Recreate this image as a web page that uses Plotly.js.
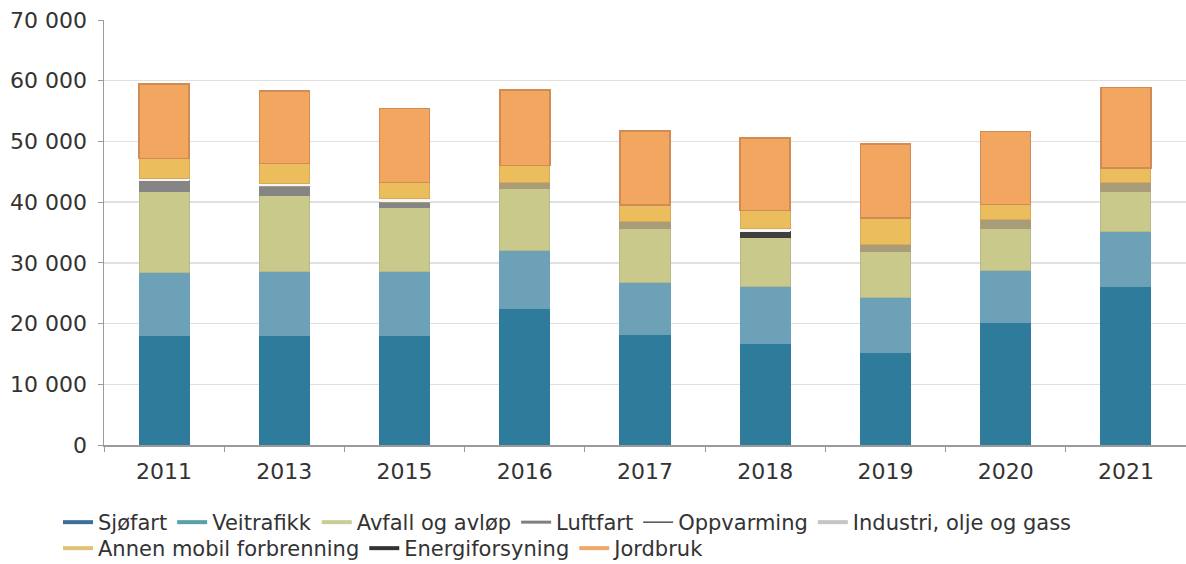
<!DOCTYPE html>
<html>
<head>
<meta charset="utf-8">
<script src="https://cdn.plot.ly/plotly-3.0.1.min.js"></script>
<style>
  html, body { margin: 0; padding: 0; background: #ffffff; }
  #chart { width: 1186px; height: 564px; }
</style>
</head>
<body>
<div id="chart"></div>
<script>
const years = ['2011', '2013', '2015', '2016', '2017', '2018', '2019', '2020', '2021'];

const sjofart        = [18100, 18100, 18100, 22500, 18200, 16800, 15250, 20100, 26100];
const veitrafikk     = [10300, 10400, 10400,  9500,  8550,  9300,  9000,  8700,  9100];
const avfall         = [13400, 12600, 10700, 10200,  8900,  8000,  7600,  6900,  6500];
const luftfart       = [ 1750,  1500,   800,     0,     0,     0,     0,     0,     0];
const energiforsyning= [    0,     0,     0,     0,     0,  1000,     0,     0,     0];
const industri       = [    0,     0,     0,  1100,  1100,     0,  1250,  1400,  1500];
const oppvarming     = [  330,   390,   540,     0,     0,   550,     0,     0,     0];
const annenMobil     = [ 3300,  3400,  2700,  2700,  2750,  2950,  4300,  2500,  2450];
const jordbruk       = [12300, 11900, 12200, 12500, 12250, 11950, 12200, 12000, 13200];

const seriesNames = ['Sjøfart', 'Veitrafikk', 'Avfall og avløp', 'Luftfart', 'Oppvarming',
  'Industri, olje og gass', 'Annen mobil forbrenning', 'Energiforsyning', 'Jordbruk'];

const FONT = 'DejaVu Sans, Liberation Sans, Arial, sans-serif';

function barTrace(name, values, color, lineColor, lineWidth) {
  return {
    type: 'bar', x: years, y: values, name: name, legendgroup: name,
    showlegend: false, hoverinfo: 'skip',
    marker: { color: color, line: { color: lineColor, width: lineWidth } }
  };
}

const bars = [
  barTrace('Sjøfart', sjofart, '#2f7b9b', '#2f7b9b', 1),
  barTrace('Veitrafikk', veitrafikk, '#6ca1b7', '#6ca1b7', 1),
  barTrace('Avfall og avløp', avfall, '#cac98c', '#b9b88a', 1),
  barTrace('Luftfart', luftfart, '#858585', '#858585', 1),
  barTrace('Energiforsyning', energiforsyning, '#3f3f3f', '#3f3f3f', 1),
  barTrace('Industri, olje og gass', industri, '#a99c79', '#a99c79', 1),
  barTrace('Oppvarming', oppvarming, '#f7f7f3', '#f7f7f3', 0),
  barTrace('Annen mobil forbrenning', annenMobil, '#ebbd5c', '#d9a95a', 1),
  barTrace('Jordbruk', jordbruk, '#f3a65f', '#cf8c57', 1.5)
];

const legendColors = ['#3e6f98', '#5b9fa9', '#cacc97', '#7f7f7f', '#4f4f4f',
  '#c2c6c6', '#e2c275', '#333333', '#efa86a'];
const legendWidths = [4, 4, 4, 3, 1.5, 4, 4, 4, 4];
const legendIds = ['legend', 'legend', 'legend', 'legend', 'legend', 'legend',
  'legend2', 'legend2', 'legend2'];

const legendTraces = seriesNames.map((n, i) => ({
  type: 'scatter', mode: 'lines', x: [null], y: [null], name: n,
  legendgroup: n, legend: legendIds[i], hoverinfo: 'skip',
  line: { color: legendColors[i], width: legendWidths[i] }
}));

const layout = {
  width: 1186, height: 564,
  margin: { l: 104, r: 0, t: 20, b: 119 },
  paper_bgcolor: '#ffffff', plot_bgcolor: '#ffffff',
  separators: ', ',
  barmode: 'stack', bargap: 0.584,
  font: { family: FONT, size: 22, color: '#333333' },
  xaxis: {
    type: 'category', tickson: 'boundaries', ticks: 'outside', ticklen: 5,
    tickcolor: '#9a9a9a', showline: true, linecolor: '#9a9a9a', linewidth: 1.5,
    showgrid: false, tickfont: { family: FONT, size: 22, color: '#333333' },
    ticklabelstandoff: 6
  },
  yaxis: {
    range: [0, 70000], dtick: 10000, tickformat: ',d', ticks: 'outside', ticklen: 5,
    tickcolor: '#9a9a9a', showline: true, linecolor: '#9a9a9a', linewidth: 1.5,
    showgrid: true, gridcolor: '#e0e0e0', gridwidth: 1.5, zeroline: false,
    tickfont: { family: FONT, size: 22, color: '#333333' }, ticklabelstandoff: 6
  },
  legend: {
    orientation: 'h', xref: 'container', yref: 'container',
    x: 58 / 1186, xanchor: 'left', y: 1 - 502 / 564, yanchor: 'top',
    font: { family: FONT, size: 21, color: '#333333' },
    itemwidth: 30, tracegroupgap: 0, bgcolor: 'rgba(0,0,0,0)'
  },
  legend2: {
    orientation: 'h', xref: 'container', yref: 'container',
    x: 58 / 1186, xanchor: 'left', y: 1 - 528 / 564, yanchor: 'top',
    font: { family: FONT, size: 21, color: '#333333' },
    itemwidth: 30, tracegroupgap: 0, bgcolor: 'rgba(0,0,0,0)'
  }
};

Plotly.newPlot('chart', bars.concat(legendTraces), layout, { displayModeBar: false, staticPlot: true });
</script>
</body>
</html>
